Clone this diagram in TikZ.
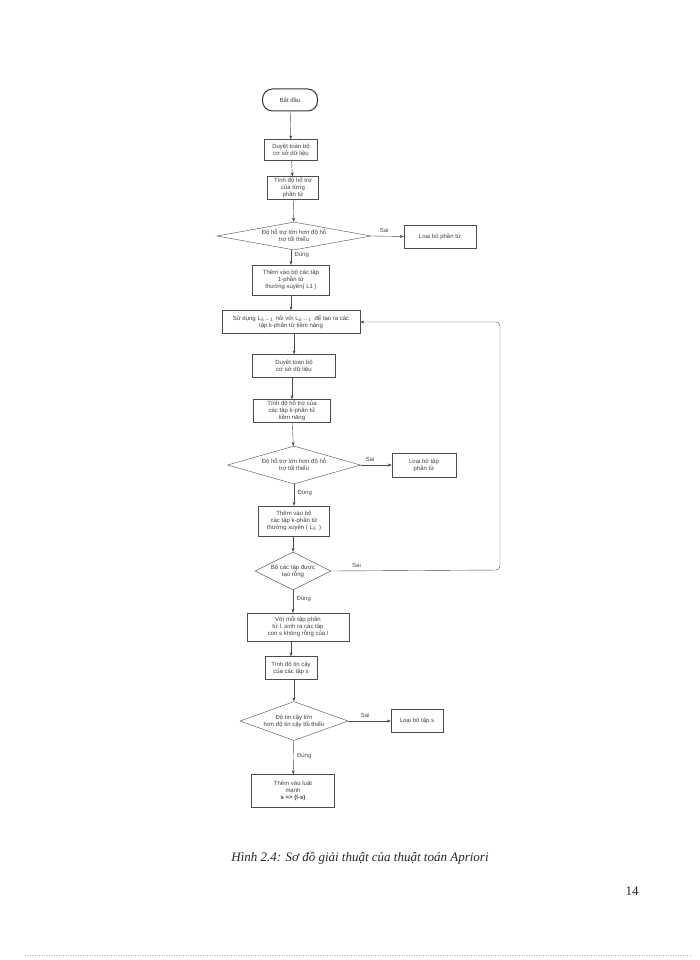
\documentclass[tikz,border=0pt]{standalone}
\usepackage{fontspec}
\setmainfont{Liberation Sans}
\newfontfamily\capfont{Liberation Serif}
\usetikzlibrary{shapes.geometric,arrows.meta}
\begin{document}
\begin{tikzpicture}[x=1pt,y=-1pt,
  every node/.style={font=\fontsize{6}{7}\selectfont, text=black!75},
  bx/.style={draw=black!70, rectangle, align=center, inner sep=1pt, minimum width=#1},
  dm/.style={draw=black!70, diamond, aspect=#1, align=center, inner sep=0pt},
  lb/.style={font=\fontsize{6}{7}\selectfont, text=black!70},
  ar/.style={draw=black!70, -{Stealth[length=4pt,width=3pt]}}]
\useasboundingbox[fill=white] (0,0) rectangle (700,960);
\node[draw=black!80, line width=1pt, rounded corners=10pt, minimum width=55pt, minimum height=22pt] (s) at (290,100) {Bắt đầu};
\node[bx=53pt, minimum height=21pt] (b1) at (291,150) {Duyệt toàn bộ\\cơ sở dữ liệu};
\node[bx=51pt, minimum height=23pt] (b2) at (293,188) {Tính độ hỗ trợ\\của từng\\phần tử};
\node[dm=5.5, minimum width=154pt, minimum height=28pt] (d1) at (294,236) {Độ hỗ trợ lớn hơn độ hỗ\\trợ tối thiểu};
\node[bx=72pt, minimum height=23pt] (r1) at (440,237) {Loại bỏ phần tử};
\node[bx=77pt, minimum height=30pt] (b3) at (291,280) {Thêm vào bộ các tập\\1-phần tử\\thường xuyên( L1 )};
\node[bx=138pt, minimum height=23pt] (b4) at (291,322) {Sử dụng L$_{k-1}$ nối với L$_{k-1}$\, để tạo ra các\\tập k-phần tử tiềm năng};
\node[bx=83pt, minimum height=23pt] (b5) at (294,366) {Duyệt toàn bộ\\cơ sở dữ liệu};
\node[bx=77pt, minimum height=23pt] (b6) at (292,411) {Tính độ hỗ trợ của\\các tập k-phần tử\\tiềm năng};
\node[dm=3.5, minimum width=133pt, minimum height=38pt] (d2) at (294,465) {Độ hỗ trợ lớn hơn độ hỗ\\trợ tối thiểu};
\node[bx=64pt, minimum height=24pt] (r2) at (424,465) {Loại bỏ tập\\phần tử};
\node[bx=71pt, minimum height=30pt] (b7) at (294,521) {Thêm vào bộ\\các tập k-phần tử\\thường xuyên ( L$_k$ )};
\node[dm=2, minimum width=76pt, minimum height=38pt] (d3) at (293,571) {Bộ các tập được\\tạo rỗng};
\node[bx=102pt, minimum height=28pt] (b8) at (298,627) {Với mỗi tập phần\\tử l, sinh ra các tập\\con s không rỗng của l};
\node[bx=52pt, minimum height=23pt] (b9) at (291,668) {Tính độ tin cậy\\của các tập s};
\node[dm=2.8, minimum width=108pt, minimum height=39pt] (d4) at (294,721) {Độ tin cậy lớn\\hơn độ tin cậy tối thiểu};
\node[bx=52pt, minimum height=23pt] (r4) at (417,721) {Loại bỏ tập s};
\node[bx=83pt, minimum height=33pt] (b10) at (293,791) {Thêm vào luật\\mạnh\\\textbf{s => (l-s)}};
\draw[ar] (s) -- (b1);
\draw[ar] (b1) -- (b2);
\draw[ar] (b2) -- (d1);
\draw[ar] (d1.east) -- node[lb, above, pos=0.4] {Sai} (r1);
\draw[ar] (d1.south -| b3) -- node[lb, right, pos=0.3] {Đúng} (b3);
\draw[ar] (b3) -- (b4);
\draw[ar] (b4.south -| b5) -- (b5);
\draw[ar] (b5.south -| b6) -- (b6);
\draw[ar] (b6) -- (d2);
\draw[ar] (d2.east) -- node[lb, above, pos=0.3] {Sai} (r2);
\draw[ar] (d2) -- node[lb, right, pos=0.4] {Đúng} (b7);
\draw[ar] (b7.south -| d3) -- (d3);
\coordinate (c1) at (500,570);
\coordinate (c2) at (500,322);
\draw[ar, rounded corners=4pt] (d3.east) -- node[lb, above, pos=0.15] {Sai} (c1) -- (c2) -- (b4.east);
\draw[ar] (d3.south) -- node[lb, right, pos=0.4] {Đúng} (d3.south |- b8.north);
\draw[ar] (b8.south -| b9) -- (b9);
\draw[ar] (b9.south -| d4) -- (d4);
\draw[ar] (d4.east) -- node[lb, above, pos=0.4] {Sai} (r4);
\draw[ar] (d4) -- node[lb, right, pos=0.45] {Đúng} (b10);
\node[font=\capfont\fontsize{13}{15}\selectfont\itshape, text=black!85] (cap) at (360,858) {Hình 2.4: Sơ đồ giải thuật của thuật toán Apriori};
\node[font=\capfont\fontsize{13}{15}\selectfont, text=black!85] (pg) at (632,891) {14};
\coordinate (l1) at (25,955); \coordinate (l2) at (690,955);
\draw[black!30, dotted] (l1) -- (l2);
\end{tikzpicture}
\end{document}
